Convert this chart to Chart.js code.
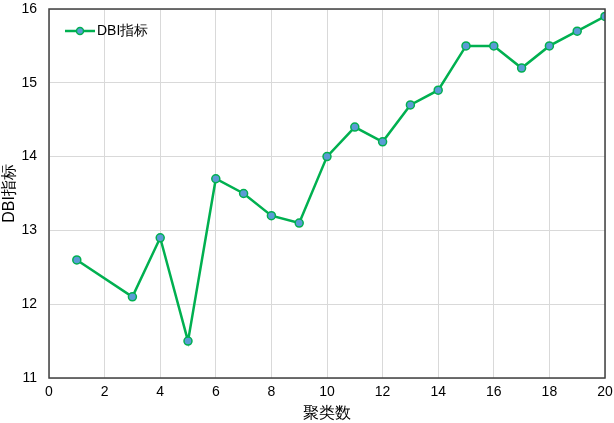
<!DOCTYPE html>
<html>
<head>
<meta charset="utf-8">
<script src="https://cdn.jsdelivr.net/npm/chart.js@4.4.0/dist/chart.umd.min.js"></script>
<style>
  html, body { margin: 0; padding: 0; background: #fff; }
  #wrap { width: 614px; height: 423px; }
</style>
</head>
<body>
<div id="wrap"><canvas id="canvas1" width="614" height="423"></canvas></div>
<script>
// data (x = 2 has no point)
const clusters = [1, 3, 4, 5, 6, 7, 8, 9, 10, 11, 12, 13, 14, 15, 16, 17, 18, 19, 20];
const dbiValues = [12.6, 12.1, 12.9, 11.5, 13.7, 13.5, 13.2, 13.1, 14.0, 14.4, 14.2, 14.7, 14.9, 15.5, 15.5, 15.2, 15.5, 15.7, 15.9];
const seriesName = 'DBI指标';
const xTitle = '聚类数';
const yTitle = 'DBI指标';

const lineColor = '#00b050';
const dotColor = '#5b9bd5';
const fontFam = '"Liberation Sans", Arial, sans-serif';

let points = [];
for (let i = 0; i < clusters.length; i++) {
  points.push({ x: clusters[i], y: dbiValues[i] });
}

// box round the plot + legend inside the top left corner
const boxAndLegend = {
  id: 'boxAndLegend',
  afterDraw(chart) {
    const ctx = chart.ctx;
    const a = chart.chartArea;
    ctx.save();
    ctx.strokeStyle = '#404040';
    ctx.lineWidth = 1.5;
    ctx.strokeRect(a.left, a.top, a.right - a.left, a.bottom - a.top);

    // legend
    const ly = a.top + 22;
    const lx = a.left + 16;
    ctx.strokeStyle = lineColor;
    ctx.lineWidth = 2.5;
    ctx.beginPath();
    ctx.moveTo(lx, ly);
    ctx.lineTo(lx + 30, ly);
    ctx.stroke();
    ctx.beginPath();
    ctx.arc(lx + 15, ly, 3.5, 0, Math.PI * 2);
    ctx.fillStyle = dotColor;
    ctx.fill();
    ctx.lineWidth = 1.5;
    ctx.stroke();
    ctx.fillStyle = '#000';
    ctx.font = '14px ' + fontFam;
    ctx.textBaseline = 'middle';
    ctx.fillText(seriesName, lx + 32, ly);
    ctx.restore();
  }
};

new Chart(document.getElementById('canvas1'), {
  type: 'line',
  data: {
    datasets: [{
      label: seriesName,
      data: points,
      borderColor: lineColor,
      borderWidth: 2.5,
      backgroundColor: dotColor,
      pointBackgroundColor: dotColor,
      pointBorderColor: lineColor,
      pointBorderWidth: 1.5,
      pointRadius: 4,
      tension: 0,
      fill: false
    }]
  },
  options: {
    responsive: false,
    animation: false,
    layout: { padding: { top: 0, right: 0, left: 0, bottom: 0 } },
    plugins: {
      legend: { display: false },
      tooltip: { enabled: false }
    },
    scales: {
      x: {
        type: 'linear',
        min: 0,
        max: 20,
        afterFit: function (s) { s.height = 45; s.paddingRight = 9; },
        ticks: {
          stepSize: 2,
          color: '#000',
          padding: 6,
          font: { family: fontFam, size: 14 }
        },
        grid: { color: '#d9d9d9', drawTicks: false },
        border: { display: false },
        title: {
          display: true,
          text: xTitle,
          color: '#000',
          padding: { top: 0, bottom: 0 },
          font: { family: fontFam, size: 16 }
        }
      },
      y: {
        min: 11,
        max: 16,
        afterFit: function (s) { s.width = 49; s.paddingTop = 9; },
        ticks: {
          stepSize: 1,
          color: '#000',
          padding: 12,
          font: { family: fontFam, size: 14 }
        },
        grid: { color: '#d9d9d9', drawTicks: false },
        border: { display: false },
        title: {
          display: true,
          text: yTitle,
          color: '#000',
          padding: { top: 0, bottom: 0 },
          font: { family: fontFam, size: 16 }
        }
      }
    }
  },
  plugins: [boxAndLegend]
});
</script>
</body>
</html>
